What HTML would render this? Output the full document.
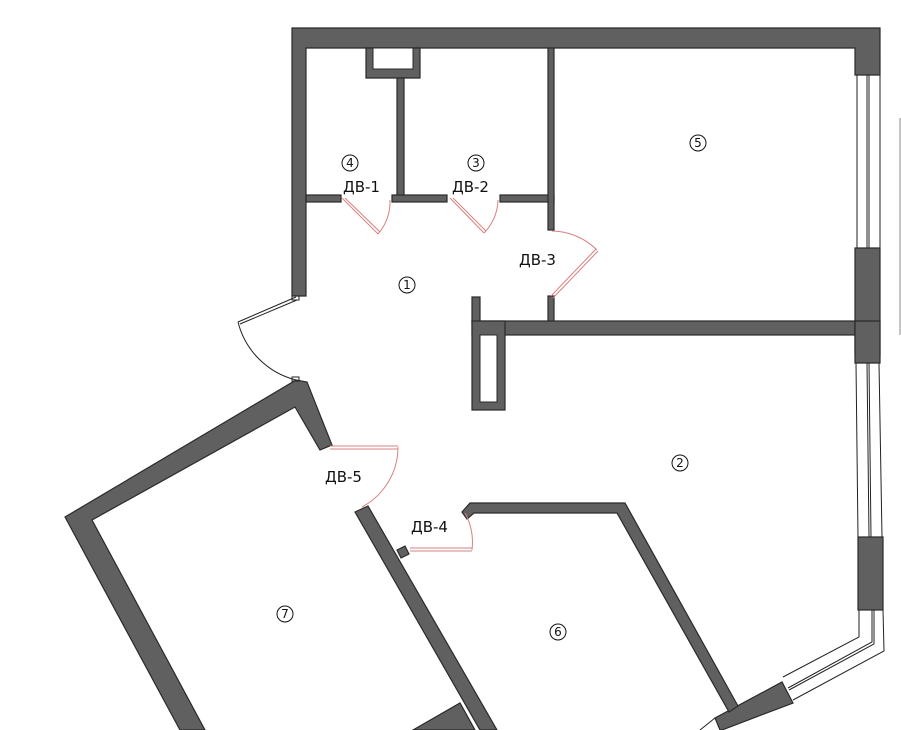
<!DOCTYPE html>
<html><head><meta charset="utf-8"><style>
body{margin:0;background:#fff}
svg{display:block}
text{font-family:"DejaVu Sans","Liberation Sans",sans-serif;font-size:15px;fill:#111}
.w{fill:#606060;stroke:#2a2a2a;stroke-width:1.2}
.d{fill:none;stroke:#d98080;stroke-width:1}
.n{font-size:12px;text-anchor:middle}
</style></head><body>
<svg width="901" height="730" viewBox="0 0 901 730" xmlns="http://www.w3.org/2000/svg">
<!-- outer top + left -->
<polygon class="w" points="292,28 880,28 880,75 855,75 855,48 306,48 306,296 292,296"/>
<!-- vent box -->
<polygon class="w" points="366,48 420,48 420,78 366,78"/>
<rect x="373" y="48" width="40" height="21" fill="#fff" stroke="#2a2a2a"/>
<rect x="397" y="78" width="7" height="118" class="w"/>
<!-- horizontal wall rooms 4/3 -->
<rect x="306" y="195" width="35" height="7" class="w"/>
<rect x="392" y="195" width="55" height="7" class="w"/>
<rect x="500" y="195" width="54" height="7" class="w"/>
<rect x="548" y="48" width="6" height="182" class="w"/>
<rect x="548" y="296" width="6" height="26" class="w"/>
<!-- wall 5/2 -->
<rect x="472" y="321" width="383" height="14" class="w"/>
<rect x="472" y="297" width="8" height="25" class="w"/>
<rect x="472" y="321" width="33" height="89" class="w"/>
<rect x="480" y="335" width="17" height="67" fill="#fff" stroke="#2a2a2a"/>
<!-- right wall -->
<rect x="855" y="248" width="25" height="107" class="w"/>
<polygon class="w" points="855,321 880,321 880,363 855,363"/>
<rect x="858" y="537" width="25" height="73" class="w"/>
<g fill="none" stroke="#222" stroke-width="1">
<line x1="857" y1="75" x2="857" y2="248"/><line x1="880" y1="75" x2="880" y2="248"/><line x1="867" y1="75" x2="867" y2="248"/><line x1="869" y1="75" x2="869" y2="248"/>
<line x1="856" y1="363" x2="858" y2="537"/><line x1="879" y1="363" x2="882" y2="537"/><line x1="867" y1="363" x2="869" y2="537"/><line x1="869" y1="363" x2="871" y2="537"/>
<polyline points="859,610 859,637 783,677"/><polyline points="883,610 884,651 793,700"/>
<polyline points="872,610 872,642 788,688"/><polyline points="874,610 874,644 789,690"/>
<polyline points="715,718 700,730"/><polyline points="720,730 720,730"/>
<line x1="900" y1="118" x2="900" y2="335" stroke="#888"/>
</g>
<polygon class="w" points="715,718 782,682 793,703 722,730 720,730"/>
<!-- room 7 -->
<polygon class="w" points="65,517 296,380 307,382 332,445 320,450 295,407 92,520 205,730 180,730"/>
<polygon class="w" points="355,512 368,506 497,730 480,730"/>
<polygon class="w" points="413,730 460,703 475,730"/>
<polygon class="w" points="397,550 405,546 409,554 401,558"/>
<!-- room 6 wall -->
<polygon class="w" points="462,512 470,503 625,503 738,706 729,712 617,513 474,513 467,519"/>
<!-- doors -->
<g class="d">
<line x1="342" y1="198" x2="378" y2="234"/><line x1="345" y1="198" x2="380" y2="232"/>
<path d="M378,234 A50,50 0 0 0 390,200"/>
<line x1="450" y1="198" x2="484" y2="233"/><line x1="453" y1="198" x2="486" y2="231"/>
<path d="M484,233 A50,50 0 0 0 498,200"/>
<line x1="551" y1="296" x2="596" y2="249"/><line x1="553" y1="298" x2="598" y2="251"/>
<path d="M597,250 A65,65 0 0 0 552,231"/>
<line x1="330" y1="446" x2="398" y2="446"/><line x1="330" y1="449" x2="398" y2="449"/>
<path d="M398,447 A68,68 0 0 1 362,507"/>
<line x1="410" y1="548" x2="472" y2="548"/><line x1="410" y1="551" x2="472" y2="551"/>
<path d="M472,550 A62,62 0 0 0 465,513"/>
</g>
<g fill="none" stroke="#222" stroke-width="1">
<line x1="296" y1="297" x2="238" y2="322"/><line x1="297" y1="300" x2="240" y2="324"/>
<path d="M238,322 A80,80 0 0 0 296,380"/>
<rect x="292" y="296" width="7" height="4"/><rect x="292" y="377" width="7" height="4"/>
</g>
<!-- labels -->
<g fill="none" stroke="#111" stroke-width="1">
<circle cx="350" cy="163" r="8"/><circle cx="476" cy="163" r="8"/><circle cx="698" cy="143" r="8"/>
<circle cx="407" cy="285" r="8"/><circle cx="680" cy="463" r="8"/><circle cx="558" cy="632" r="8"/><circle cx="285" cy="614" r="8"/>
</g>
<text class="n" x="350" y="167">4</text><text class="n" x="476" y="167">3</text><text class="n" x="698" y="147">5</text>
<text class="n" x="407" y="289">1</text><text class="n" x="680" y="467">2</text><text class="n" x="558" y="636">6</text><text class="n" x="285" y="618">7</text>
<text x="343" y="192">ДВ-1</text><text x="452" y="192">ДВ-2</text><text x="519" y="265">ДВ-3</text>
<text x="325" y="482">ДВ-5</text><text x="411" y="532">ДВ-4</text>
</svg>
</body></html>
